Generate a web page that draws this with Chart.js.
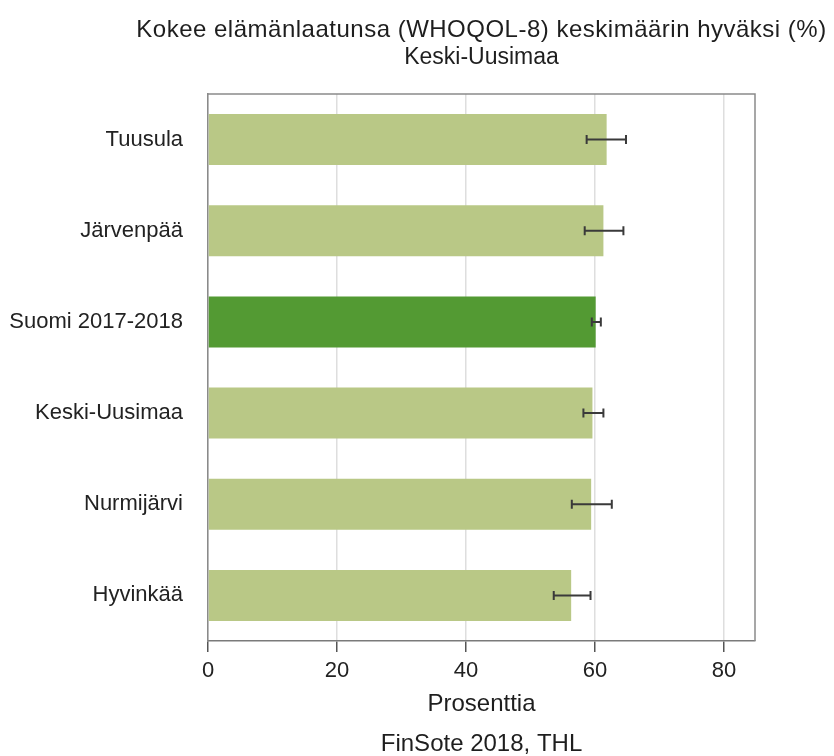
<!DOCTYPE html>
<html><head><meta charset="utf-8">
<script src="https://cdn.jsdelivr.net/npm/chart.js@4"></script>
<style>html,body{margin:0;padding:0;background:#fff;}</style>
</head><body>
<canvas id="c" width="834" height="756"></canvas>
<script>
const categories = ["Tuusula", "Järvenpää", "Suomi 2017-2018", "Keski-Uusimaa", "Nurmijärvi", "Hyvinkää"];
const values = [61.8, 61.3, 60.1, 59.6, 59.4, 56.3];
const lower = [58.7, 58.4, 59.5, 58.2, 56.4, 53.6];
const upper = [64.8, 64.4, 60.9, 61.3, 62.6, 59.3];
const highlight = "Suomi 2017-2018";
const xTickValues = [0, 20, 40, 60, 80];
const titleLines = ["Kokee elämänlaatunsa (WHOQOL-8) keskimäärin hyväksi (%)", "Keski-Uusimaa"];
const xTitle = "Prosenttia";
const footer = "FinSote 2018, THL";

const FAMILY = "'Liberation Sans', Arial, Helvetica, sans-serif";
const LIGHT = "#b9c886";
const DARK = "#539a33";

const boxPlugin = {
  id: 'box',
  afterDraw(chart) {
    const {ctx, chartArea: a} = chart;
    ctx.save();
    ctx.strokeStyle = '#8a8a8a';
    ctx.lineWidth = 1.5;
    ctx.beginPath();
    ctx.moveTo(a.left, a.top);
    ctx.lineTo(a.right, a.top);
    ctx.lineTo(a.right, a.bottom);
    ctx.stroke();
    ctx.restore();
  }
};

const errPlugin = {
  id: 'err',
  afterDatasetsDraw(chart) {
    const {ctx} = chart;
    const xs = chart.scales.x, ys = chart.scales.y;
    ctx.save();
    ctx.strokeStyle = '#3a3a3a';
    ctx.lineWidth = 2;
    categories.forEach((c, i) => {
      const y = ys.getPixelForValue(i);
      const x1 = xs.getPixelForValue(lower[i]);
      const x2 = xs.getPixelForValue(upper[i]);
      ctx.beginPath();
      ctx.moveTo(x1, y); ctx.lineTo(x2, y);
      ctx.moveTo(x1, y - 4.5); ctx.lineTo(x1, y + 4.5);
      ctx.moveTo(x2, y - 4.5); ctx.lineTo(x2, y + 4.5);
      ctx.stroke();
    });
    ctx.restore();
  }
};

const textPlugin = {
  id: 'texts',
  afterDraw(chart) {
    const {ctx, chartArea: a} = chart;
    const cx = (a.left + a.right) / 2;
    ctx.save();
    ctx.fillStyle = '#1e1e1e';
    ctx.textAlign = 'center';
    ctx.textBaseline = 'alphabetic';
    ctx.font = "24px " + FAMILY;
    ctx.letterSpacing = '0.5px';
    ctx.fillText(titleLines[0], cx, 37);
    ctx.letterSpacing = '0px';
    ctx.font = "23px " + FAMILY;
    ctx.fillText(titleLines[1], cx, 64);
    ctx.font = "24px " + FAMILY;
    ctx.fillText(xTitle, cx, 711);
    ctx.fillText(footer, cx, 751);
    ctx.restore();
  }
};

new Chart(document.getElementById('c'), {
  type: 'bar',
  data: {
    labels: categories,
    datasets: [{
      data: values,
      backgroundColor: categories.map(c => c === highlight ? DARK : LIGHT),
      borderWidth: 0,
      barPercentage: 0.56,
      categoryPercentage: 1.0
    }]
  },
  options: {
    indexAxis: 'y',
    responsive: false,
    animation: false,
    devicePixelRatio: 1,
    layout: {padding: {top: 94, right: 79, bottom: 0, left: 0}},
    plugins: {legend: {display: false}, tooltip: {enabled: false}, title: {display: false}},
    scales: {
      x: {
        min: 0, max: 84.8,
        afterBuildTicks(s) { s.ticks = xTickValues.map(v => ({value: v})); },
        ticks: {font: {size: 22, family: FAMILY}, color: '#222', padding: 6},
        grid: {color: '#dedede', lineWidth: 1.5, drawTicks: true, tickLength: 11, tickColor: '#555', tickWidth: 1.5},
        border: {display: true, color: '#7a7a7a', width: 1.5},
        afterFit(s) { s.height = 115; }
      },
      y: {
        ticks: {font: {size: 22, family: FAMILY}, color: '#222', padding: 25},
        grid: {display: false, drawTicks: false, tickLength: 0},
        border: {display: true, color: '#8a8a8a', width: 1.5},
        afterFit(s) { s.width = 208; }
      }
    }
  },
  plugins: [boxPlugin, errPlugin, textPlugin]
});
</script>
</body></html>
